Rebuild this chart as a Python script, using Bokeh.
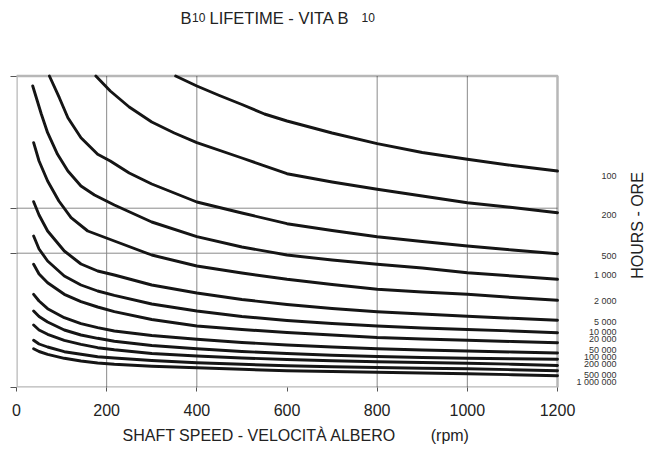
import math
from bokeh.plotting import figure
from bokeh.models import Range1d, FixedTicker, Title, BoxAnnotation
from bokeh.core.properties import value
from bokeh.embed import file_html
from bokeh.resources import INLINE

# ---------------- data ----------------
hours_labels = ["100", "200", "500", "1 000", "2 000", "5 000", "10 000",
                "20 000", "50 000", "100 000", "200 000", "500 000", "1 000 000"]
x_ticks = [0, 200, 400, 600, 800, 1000, 1200]
x_grid = [200, 400, 800, 1000]

# shaft speed (rpm) / relative load for each lifetime curve
rpm_100h = [353, 400, 450, 500, 550, 600, 700, 800, 900, 1000, 1100, 1200]
load_100h = [311.5, 301.5, 292, 283, 273.5, 266.5, 254.5, 243.8, 235, 228.2, 222, 216.5]

rpm_200h = [176, 208, 250, 300, 350, 400, 500, 600, 700, 800, 900, 1000, 1100, 1200]
load_200h = [311.5, 296.5, 280.5, 265.5, 254.5, 244.8, 229.5, 213.8, 205.5, 198.2, 191.5, 184.8, 180, 174.8]

rpm_500h = [73, 95, 114, 143, 180, 208, 250, 300, 400, 500, 600, 700, 800, 900, 1000, 1100, 1200]
load_500h = [311.5, 289.8, 269.8, 249.8, 233.2, 226.5, 214.5, 203.5, 185.5, 174.5, 163.8, 157, 150.8, 146, 141.5, 137.5, 133.8]

rpm_1000h = [36, 55, 69, 91, 114, 143, 173, 217, 300, 400, 500, 600, 700, 800, 900, 1000, 1100, 1200]
load_1000h = [301.5, 273.5, 254.8, 233.2, 216.5, 201.5, 192.5, 182.5, 165.5, 150.8, 140.5, 132.5, 127.5, 123.2, 119.5, 114.8, 111.5, 108.2]

rpm_2000h = [38, 50, 69, 94, 121, 158, 217, 300, 400, 500, 600, 700, 800, 900, 1000, 1100, 1200]
load_2000h = [244.8, 226.5, 206.5, 186.5, 169.8, 156.5, 146.5, 132.5, 121.5, 114.5, 108.2, 103, 98.2, 95.5, 93.2, 90, 87.2]

rpm_low = [38, 50, 69, 106, 143, 180, 217, 300, 400, 500, 600, 700, 800, 900, 1000, 1100, 1200]
load_5000h = [185.8, 172.5, 156.5, 136.5, 123.5, 116.5, 112.5, 102.5, 94.5, 88, 83, 79, 75.8, 73.5, 71.2, 69.2, 67.2]
load_10000h = [151.5, 138.5, 126.5, 111.5, 102.5, 96.5, 92.2, 83.5, 76.5, 71, 67, 64, 61.5, 59.5, 58, 56.5, 54.8]
load_20000h = [123.2, 113.5, 104.8, 93.2, 85.8, 80.5, 75.8, 68, 61.5, 58, 55, 52.5, 50, 48.5, 47.2, 46, 44.8]
load_50000h = [93.2, 86.5, 78.8, 69.8, 63.8, 59.8, 56.5, 52, 48.2, 45, 42.5, 40.5, 38.8, 37.5, 36.5, 35.5, 34.5]
load_100000h = [76.5, 71, 65.5, 57.5, 52.5, 49.2, 46.3, 42, 38.8, 36, 34, 32.2, 31, 30, 29.3, 28.7, 28.2]
load_200000h = [62.5, 57.5, 53.2, 47.2, 43.2, 39.8, 37.7, 34, 31.5, 29.5, 28, 26.8, 25.8, 25, 24.3, 23.3, 22]
load_500000h = [47.2, 43.5, 40.5, 35.8, 33.2, 30.8, 29.5, 27, 24.8, 23.2, 21.8, 20.8, 20, 19.3, 18.7, 17.8, 16.8]
load_1000000h = [38.8, 36, 33.2, 29.2, 26.5, 24.5, 23.2, 21.3, 19.8, 18.2, 16.8, 16, 15.3, 14.5, 13.8, 12.8, 11.7]

curves = [
    (rpm_100h, load_100h), (rpm_200h, load_200h), (rpm_500h, load_500h),
    (rpm_1000h, load_1000h), (rpm_2000h, load_2000h),
    (rpm_low, load_5000h), (rpm_low, load_10000h), (rpm_low, load_20000h),
    (rpm_low, load_50000h), (rpm_low, load_100000h), (rpm_low, load_200000h),
    (rpm_low, load_500000h), (rpm_low, load_1000000h),
]

# ---------------- layout ----------------
W, H = 659, 450
CHART_L_PX, CHART_R_PX = 16, 557        # chart box, canvas pixels
FRAME_B_PX = 387                        # frame bottom (frame spans to top and right edge)
X_MAX = 1200.0
Y_MAX = 311.5                           # chart box top (in load units = px)
K = X_MAX / (CHART_R_PX - CHART_L_PX)   # rpm per pixel

def dx(px):
    return (px - CHART_L_PX) * K

def dy(py):
    return FRAME_B_PX - py

FONT = "Liberation Sans"
TXT = "#222222"

p = figure(width=W, height=H, output_backend="svg", toolbar_location=None, title=None,
           x_range=Range1d(0, dx(W)), y_range=Range1d(0, FRAME_B_PX),
           frame_width=W - CHART_L_PX, frame_height=FRAME_B_PX,
           min_border_left=CHART_L_PX, min_border_top=0, min_border_right=0,
           min_border_bottom=H - FRAME_B_PX)
p.background_fill_color = "white"
p.border_fill_color = "white"
p.outline_line_color = None
p.xgrid.visible = False
p.ygrid.visible = False

# x axis
p.xaxis.ticker = FixedTicker(ticks=x_ticks)
p.xaxis.bounds = (0, X_MAX)
p.xaxis.axis_line_color = None
p.xaxis.major_tick_line_color = "#555555"
p.xaxis.major_tick_in = 0
p.xaxis.major_tick_out = 4
p.xaxis.minor_tick_line_color = None
p.xaxis.major_label_standoff = 12
p.xaxis.major_label_text_font = FONT
p.xaxis.major_label_text_font_size = "16px"
p.xaxis.major_label_text_color = TXT

# y axis (ticks only, no labels in the reference)
y_tick_pos = [0, dy(252.7), dy(207.7), Y_MAX]
p.yaxis.ticker = FixedTicker(ticks=y_tick_pos)
p.yaxis.bounds = (0, Y_MAX)
p.yaxis.axis_line_color = None
p.yaxis.major_tick_line_color = "#555555"
p.yaxis.major_tick_in = 0
p.yaxis.major_tick_out = 6
p.yaxis.minor_tick_line_color = None
p.yaxis.major_label_text_font_size = "0px"
p.yaxis.major_label_standoff = 0
p.yaxis.major_label_overrides = {t: "" for t in y_tick_pos}

# grid lines restricted to the chart box
p.segment(x0=x_grid, y0=[0] * len(x_grid), x1=x_grid, y1=[Y_MAX] * len(x_grid),
          line_color="#8a8a8a", line_width=1)
y_grid = [dy(207.7), dy(252.7)]
p.segment(x0=[0] * len(y_grid), y0=y_grid, x1=[X_MAX] * len(y_grid), y1=y_grid,
          line_color="#8a8a8a", line_width=1)

for xs, ys in curves:
    p.line(xs, ys, line_color="#151515", line_width=2.9, line_join="round", line_cap="round")

# chart border
p.add_layout(BoxAnnotation(left=0, right=X_MAX, bottom=0, top=Y_MAX, fill_alpha=0,
                           line_color="#111111", line_width=2.5))

def add_text(texts, pxs, pys, size, align="left", baseline="alphabetic", angle=0.0, color=TXT):
    p.text(x=[dx(v) for v in pxs], y=[dy(v) for v in pys], text=texts,
           text_font=value(FONT), text_font_size=size, text_align=align,
           text_baseline=baseline, angle=angle, text_color=color)

# title: "B10 LIFETIME - VITA B 10" with small "10"
add_text(["B", "LIFETIME - VITA B"], [180, 209], [17, 17], "16.5px")
add_text(["10", "10"], [191.5, 361], [17, 17], "12px")

# right side title
add_text(["HOURS - ORE"], [637], [225], "16px", align="center", baseline="middle", angle=math.pi / 2)

# curve labels
label_py = [175, 214, 255, 274, 300.7, 321, 331, 338.3, 349.3, 356, 363.3, 374.3, 381.7]
add_text(hours_labels, [616] * len(hours_labels), label_py, "9px", align="right",
         baseline="middle", color="#333333")

# x axis title
p.add_layout(Title(text="SHAFT SPEED - VELOCIT\u00c0 ALBERO" + "\u00a0" * 8 + "(rpm)",
                   align="left", offset=106, standoff=12, text_font=FONT, text_font_size="16px",
                   text_font_style="normal", text_color=TXT), "below")

open("out.html", "w").write(file_html(p, INLINE))
